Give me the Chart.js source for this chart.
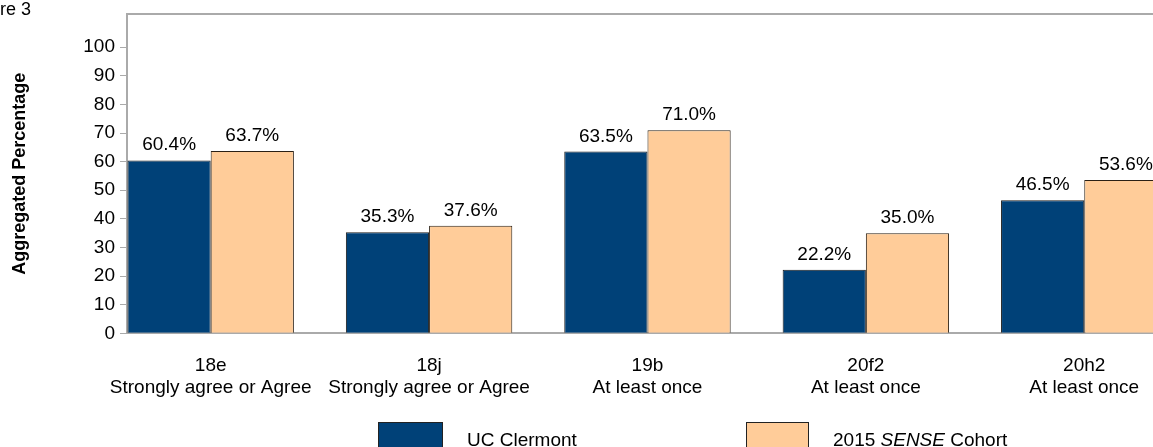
<!DOCTYPE html>
<html><head><meta charset="utf-8">
<script src="https://cdn.jsdelivr.net/npm/chart.js@4.4.1/dist/chart.umd.min.js"></script>
<style>
html,body{margin:0;padding:0;background:#fff;overflow:hidden;width:1153px;height:447px;}
#wrap{position:absolute;left:0;top:0;width:1153px;height:447px;}
.t{position:absolute;font-family:"Liberation Sans",Arial,sans-serif;color:#000;white-space:nowrap;line-height:1;}
.box{position:absolute;box-sizing:border-box;border:1px solid #222;}
</style></head><body>
<div id="wrap"><canvas id="c"></canvas></div>
<div class="t" style="left:0;top:0px;font-size:18px">re 3</div>
<div id="legend"></div>
<script>
const categoryCodes = ['18e', '18j', '19b', '20f2', '20h2'];
const categoryDescs = ['Strongly agree or Agree', 'Strongly agree or Agree', 'At least once', 'At least once', 'At least once'];
const seriesNames = ['UC Clermont', '2015 SENSE Cohort'];
const ucClermont = [60.4, 35.3, 63.5, 22.2, 46.5];
const senseCohort = [63.7, 37.6, 71.0, 35.0, 53.6];
const yTickValues = [0, 10, 20, 30, 40, 50, 60, 70, 80, 90, 100];

const FONT = '"Liberation Sans", Arial, sans-serif';
const UC_COLOR = '#004178';
const COHORT_COLOR = '#FFCC99';
const AXIS_COLOR = '#aaaaaa';

const toPoints = arr => arr.map((v, i) => ({x: i, y: v}));

const topBorder = {
  id: 'topBorder',
  beforeDatasetsDraw(chart) {
    const {ctx, chartArea: a} = chart;
    ctx.save();
    ctx.strokeStyle = AXIS_COLOR;
    ctx.lineWidth = 2;
    ctx.beginPath();
    ctx.moveTo(a.left - 1, a.top);
    ctx.lineTo(a.right, a.top);
    ctx.stroke();
    ctx.restore();
  }
};

const valueLabels = {
  id: 'valueLabels',
  afterDatasetsDraw(chart) {
    const ctx = chart.ctx;
    ctx.save();
    ctx.font = '19px ' + FONT;
    ctx.fillStyle = '#000';
    ctx.textAlign = 'center';
    ctx.textBaseline = 'alphabetic';
    chart.data.datasets.forEach((ds, di) => {
      chart.getDatasetMeta(di).data.forEach((el, i) => {
        const v = ds.data[i].y;
        ctx.fillText(v.toFixed(1) + '%', el.x, el.y - 10);
      });
    });
    ctx.restore();
  }
};

new Chart(document.getElementById('c'), {
  type: 'bar',
  data: {
    datasets: [
      {label: seriesNames[0], data: toPoints(ucClermont), backgroundColor: UC_COLOR, borderColor: '#1b1b1b', borderWidth: 1, categoryPercentage: 0.762, barPercentage: 1},
      {label: seriesNames[1], data: toPoints(senseCohort), backgroundColor: COHORT_COLOR, borderColor: '#2b2015', borderWidth: 1, categoryPercentage: 0.762, barPercentage: 1}
    ]
  },
  options: {
    responsive: true,
    maintainAspectRatio: false,
    animation: false,
    devicePixelRatio: 1,
    layout: {padding: {top: 14, left: 0, right: 0, bottom: 0}},
    plugins: {legend: {display: false}, tooltip: {enabled: false}},
    scales: {
      x: {
        type: 'linear', min: -0.3832, max: 4.3148, offset: false,
        grid: {display: false, drawTicks: false},
        border: {display: true, color: AXIS_COLOR, width: 2},
        ticks: {
          autoSkip: false, maxRotation: 0, minRotation: 0, padding: 21, color: '#000',
          font: {family: FONT, size: 19, lineHeight: 1.17},
          callback: (v) => [categoryCodes[Math.round(v)], categoryDescs[Math.round(v)]]
        },
        afterBuildTicks: s => { s.ticks = categoryCodes.map((c, i) => ({value: i})); },
        afterFit: s => { s.height = 113.7; s.paddingLeft = 0; s.paddingRight = 0; }
      },
      y: {
        min: 0, max: 111.6,
        grid: {display: true, drawOnChartArea: false, drawTicks: true, tickLength: 7, color: AXIS_COLOR, lineWidth: 1},
        border: {display: true, color: AXIS_COLOR, width: 2},
        ticks: {padding: 5, color: '#000', font: {family: FONT, size: 19}},
        afterBuildTicks: s => { s.ticks = yTickValues.map(v => ({value: v})); },
        title: {display: true, text: 'Aggregated Percentage', color: '#000', font: {family: FONT, size: 18, weight: 'bold'}, padding: {top: 9, bottom: 0}},
        afterFit: s => { s.width = 127; s.paddingTop = 0; s.paddingBottom = 0; }
      }
    }
  },
  plugins: [topBorder, valueLabels]
});

// HTML legend built from the series names
const legend = document.getElementById('legend');
const legendItems = [
  {name: seriesNames[0], color: UC_COLOR, boxLeft: 378, boxWidth: 65, textLeft: 467},
  {name: seriesNames[1], color: COHORT_COLOR, boxLeft: 746, boxWidth: 63, textLeft: 833}
];
legendItems.forEach(it => {
  const b = document.createElement('div');
  b.className = 'box';
  b.style.cssText = `left:${it.boxLeft}px;top:422px;width:${it.boxWidth}px;height:28px;background:${it.color}`;
  legend.appendChild(b);
  const t = document.createElement('div');
  t.className = 't';
  t.style.cssText = `left:${it.textLeft}px;top:430px;font-size:19px`;
  t.innerHTML = it.name.replace('SENSE', '<i>SENSE</i>');
  legend.appendChild(t);
});
</script>
</body></html>
